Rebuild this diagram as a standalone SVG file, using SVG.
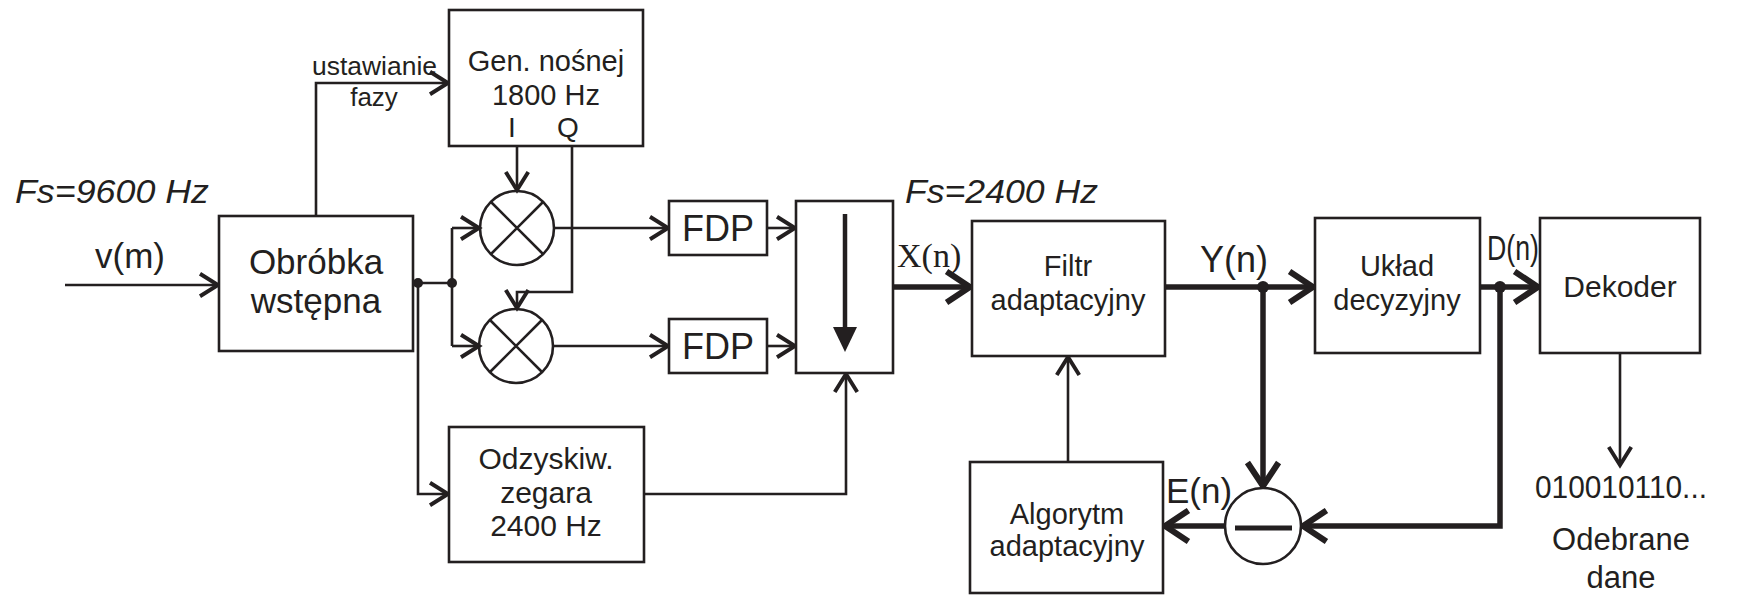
<svg xmlns="http://www.w3.org/2000/svg" width="1748" height="596" viewBox="0 0 1748 596">
<style>
.box{fill:#fff;stroke:#231f20;stroke-width:2.6}
.thin{fill:none;stroke:#231f20;stroke-width:2.6}
.thick{fill:none;stroke:#231f20;stroke-width:5.5}
.t{font-family:"Liberation Sans",Arial,Helvetica,sans-serif;fill:#231f20}
.c{text-anchor:middle}
.dot{fill:#231f20}
</style>
<defs>
<marker id="a" markerUnits="userSpaceOnUse" markerWidth="30" markerHeight="30" viewBox="-16 -10 18 20" refX="0" refY="0" orient="auto">
<path d="M-12,-7.5 L0,0 L-12,7.5" fill="none" stroke="#231f20" stroke-width="2.6"/>
</marker>
<marker id="A" markerUnits="userSpaceOnUse" markerWidth="40" markerHeight="40" viewBox="-28 -18 32 36" refX="0" refY="0" orient="auto">
<path d="M-22,-14 L-1,0 L-22,14" fill="none" stroke="#231f20" stroke-width="5.5"/>
</marker>
</defs>
<rect width="1748" height="596" fill="#fff"/>

<g id="connectors">
<line class="thin" x1="65" y1="285" x2="218" y2="285" marker-end="url(#a)"/>
<polyline class="thin" points="316,216 316,83 448,83" marker-end="url(#a)"/>
<line class="thin" x1="413" y1="283" x2="452" y2="283"/>
<polyline class="thin" points="452,228 452,346"/>
<line class="thin" x1="452" y1="228" x2="479" y2="228" marker-end="url(#a)"/>
<line class="thin" x1="452" y1="346" x2="479" y2="346" marker-end="url(#a)"/>
<polyline class="thin" points="418,283 418,494 448,494" marker-end="url(#a)"/>
<line class="thin" x1="517" y1="146" x2="517" y2="190" marker-end="url(#a)"/>
<polyline class="thin" points="572,146 572,292 517,292 517,308" marker-end="url(#a)"/>
<line class="thin" x1="554" y1="228" x2="668" y2="228" marker-end="url(#a)"/>
<line class="thin" x1="553" y1="346" x2="668" y2="346" marker-end="url(#a)"/>
<line class="thin" x1="767" y1="228" x2="795" y2="228" marker-end="url(#a)"/>
<line class="thin" x1="767" y1="346" x2="795" y2="346" marker-end="url(#a)"/>
<polyline class="thin" points="644,494 846,494 846,374" marker-end="url(#a)"/>
<line class="thick" x1="893" y1="287" x2="971" y2="287" marker-end="url(#A)"/>
<line class="thick" x1="1165" y1="287" x2="1314" y2="287" marker-end="url(#A)"/>
<circle class="dot" cx="1263" cy="287" r="6"/>
<polyline class="thick" points="1263,287 1263,487" marker-end="url(#A)"/>
<line class="thick" x1="1480" y1="287" x2="1539" y2="287" marker-end="url(#A)"/>
<circle class="dot" cx="1500" cy="287" r="6"/>
<polyline class="thick" points="1500,287 1500,526 1302,526" marker-end="url(#A)"/>
<line class="thick" x1="1225" y1="526" x2="1164" y2="526" marker-end="url(#A)"/>
<line class="thin" x1="1068" y1="462" x2="1068" y2="357" marker-end="url(#a)"/>
<line class="thin" x1="1620" y1="353" x2="1620" y2="465" marker-end="url(#a)"/>
<circle class="dot" cx="418" cy="283" r="5"/>
<circle class="dot" cx="452" cy="283" r="5"/>
</g>

<g id="obrobka">
<rect class="box" x="219" y="216" width="194" height="135"/>
<text class="t c" x="316" y="274" font-size="35">Obróbka</text>
<text class="t c" x="316" y="313" font-size="35">wstępna</text>
</g>

<g id="gen">
<rect class="box" x="449" y="10" width="194" height="136"/>
<text class="t c" x="546" y="71" font-size="29">Gen. nośnej</text>
<text class="t c" x="546" y="105" font-size="29">1800 Hz</text>
<text class="t c" x="512" y="137" font-size="28">I</text>
<text class="t c" x="568" y="137" font-size="28">Q</text>
</g>

<g id="mult1">
<circle class="thin" cx="517" cy="228" r="37"/>
<path class="thin" d="M491,202 L543,254 M543,202 L491,254"/>
</g>
<g id="mult2">
<circle class="thin" cx="516" cy="346" r="37"/>
<path class="thin" d="M490,320 L542,372 M542,320 L490,372"/>
</g>

<g id="fdp1">
<rect class="box" x="669" y="201" width="98" height="54"/>
<text class="t c" x="718" y="241" font-size="36">FDP</text>
</g>
<g id="fdp2">
<rect class="box" x="669" y="319" width="98" height="54"/>
<text class="t c" x="718" y="359" font-size="36">FDP</text>
</g>

<g id="decimator">
<rect class="box" x="796" y="201" width="97" height="172"/>
<line x1="845" y1="214" x2="845" y2="330" stroke="#231f20" stroke-width="4.5"/>
<polygon points="833,327 857,327 845,352" fill="#231f20"/>
</g>

<g id="odzysk">
<rect class="box" x="449" y="427" width="195" height="135"/>
<text class="t c" x="546" y="469" font-size="30">Odzyskiw.</text>
<text class="t c" x="546" y="503" font-size="30">zegara</text>
<text class="t c" x="546" y="536" font-size="30">2400 Hz</text>
</g>

<g id="filtr">
<rect class="box" x="972" y="221" width="193" height="135"/>
<text class="t c" x="1068" y="276" font-size="29">Filtr</text>
<text class="t c" x="1068" y="310" font-size="29">adaptacyjny</text>
</g>

<g id="uklad">
<rect class="box" x="1315" y="218" width="165" height="135"/>
<text class="t c" x="1397" y="276" font-size="29">Układ</text>
<text class="t c" x="1397" y="310" font-size="29">decyzyjny</text>
</g>

<g id="dekoder">
<rect class="box" x="1540" y="218" width="160" height="135"/>
<text class="t c" x="1620" y="297" font-size="30">Dekoder</text>
</g>

<g id="subtract">
<circle cx="1263" cy="526" r="38" fill="#fff" stroke="#231f20" stroke-width="2.6"/>
<line x1="1235" y1="528" x2="1292" y2="528" stroke="#231f20" stroke-width="5"/>
</g>

<g id="algorytm">
<rect class="box" x="970" y="462" width="193" height="131"/>
<text class="t c" x="1067" y="524" font-size="29">Algorytm</text>
<text class="t c" x="1067" y="556" font-size="29">adaptacyjny</text>
</g>

<g id="labels">
<text class="t" x="15" y="203" font-size="33" font-style="italic" textLength="194" lengthAdjust="spacingAndGlyphs">Fs=9600 Hz</text>
<text class="t" x="905" y="203" font-size="33" font-style="italic" textLength="193" lengthAdjust="spacingAndGlyphs">Fs=2400 Hz</text>
<text class="t" x="95" y="268" font-size="35">v(m)</text>
<text class="t" x="312" y="75" font-size="25" textLength="125" lengthAdjust="spacingAndGlyphs">ustawianie</text>
<text class="t c" x="374" y="106" font-size="26">fazy</text>
<text x="897" y="267" font-size="34" font-family="'Liberation Serif','Times New Roman',serif" fill="#231f20">X(n)</text>
<text class="t" x="1200" y="272" font-size="36">Y(n)</text>
<text class="t" x="1487" y="260" font-size="35" textLength="52" lengthAdjust="spacingAndGlyphs">D(n)</text>
<text class="t" x="1166" y="503" font-size="35">E(n)</text>
<text class="t c" x="1621" y="498" font-size="31" textLength="172" lengthAdjust="spacingAndGlyphs">010010110...</text>
<text class="t c" x="1621" y="550" font-size="31">Odebrane</text>
<text class="t c" x="1621" y="588" font-size="31">dane</text>
</g>
</svg>
